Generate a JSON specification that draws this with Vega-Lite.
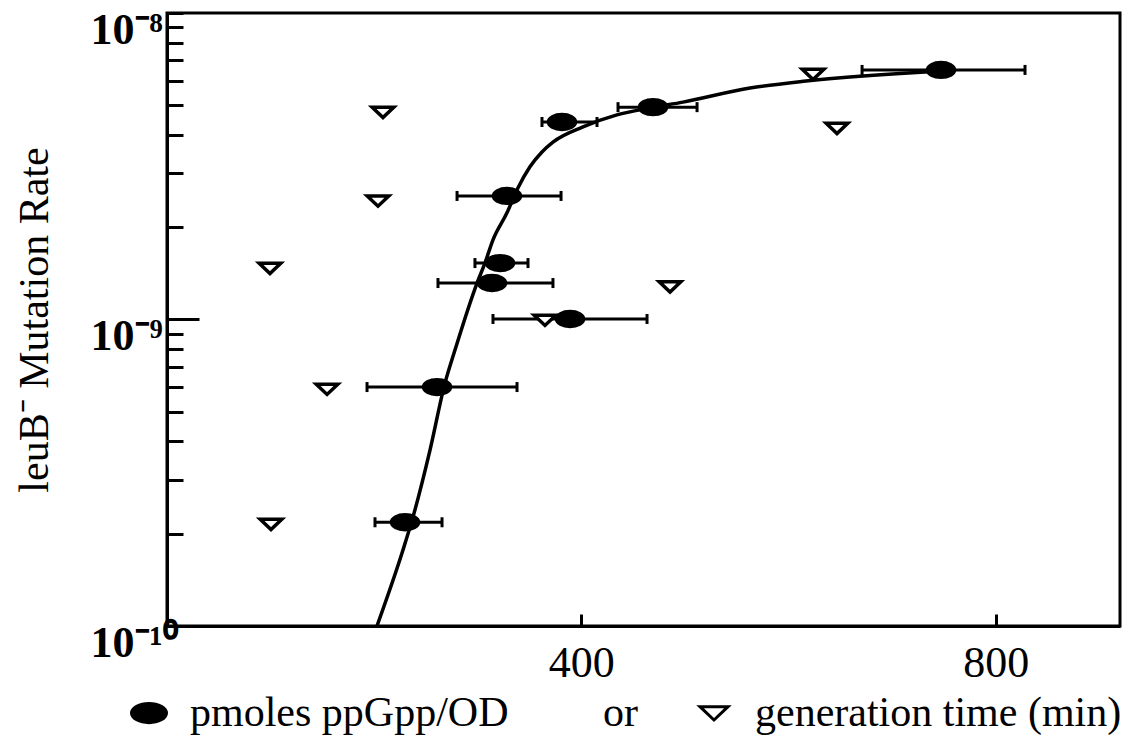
{
  "$schema": "https://vega.github.io/schema/vega-lite/v6.json",
  "width": 953,
  "height": 613,
  "autosize": {"type": "none"},
  "padding": {"left": 167, "top": 13, "right": 18, "bottom": 121},
  "config": {
    "font": "Liberation Serif",
    "view": {"stroke": "black", "strokeWidth": 3},
    "axis": {"domainColor": "black", "domainWidth": 3, "tickColor": "black", "tickWidth": 3, "grid": false, "labelColor": "black", "titleColor": "black"}
  },
  "datasets": {
    "points": [
      {"series": "gen", "x": 100.4, "rate": 2.15e-10},
      {"series": "gen", "x": 154.5, "rate": 5.93e-10},
      {"series": "gen", "x": 99.4, "rate": 1.47e-9},
      {"series": "gen", "x": 203.7, "rate": 2.44e-9},
      {"series": "gen", "x": 208.5, "rate": 4.75e-9},
      {"series": "gen", "x": 364.9, "rate": 9.96e-10},
      {"series": "gen", "x": 485.6, "rate": 1.28e-9},
      {"series": "gen", "x": 623.7, "rate": 6.32e-9},
      {"series": "gen", "x": 646.8, "rate": 4.21e-9},
      {"series": "ppGpp", "x": 229.8, "lo": 200.8, "hi": 265.5, "rate": 2.18e-10},
      {"series": "ppGpp", "x": 260.7, "lo": 193.1, "hi": 337.9, "rate": 6.02e-10},
      {"series": "ppGpp", "x": 313.8, "lo": 261.6, "hi": 372.6, "rate": 1.315e-9},
      {"series": "ppGpp", "x": 321.5, "lo": 297.3, "hi": 348.5, "rate": 1.528e-9},
      {"series": "ppGpp", "x": 389.1, "lo": 314.7, "hi": 463.4, "rate": 1.004e-9},
      {"series": "ppGpp", "x": 328.2, "lo": 280.0, "hi": 380.4, "rate": 2.53e-9},
      {"series": "ppGpp", "x": 381.3, "lo": 362.0, "hi": 415.1, "rate": 4.41e-9},
      {"series": "ppGpp", "x": 469.2, "lo": 435.4, "hi": 511.7, "rate": 4.93e-9},
      {"series": "ppGpp", "x": 747.2, "lo": 671.0, "hi": 828.3, "rate": 6.52e-9}
    ],
    "curve": [
      {"x": 202.7, "rate": 1.0e-10},
      {"x": 227.8, "rate": 1.77e-10},
      {"x": 237.5, "rate": 2.27e-10},
      {"x": 253.9, "rate": 3.75e-10},
      {"x": 268.4, "rate": 6.21e-10},
      {"x": 278.0, "rate": 7.95e-10},
      {"x": 299.3, "rate": 1.315e-9},
      {"x": 307.0, "rate": 1.53e-9},
      {"x": 314.7, "rate": 1.82e-9},
      {"x": 328.2, "rate": 2.23e-9},
      {"x": 337.9, "rate": 2.65e-9},
      {"x": 350.4, "rate": 3.15e-9},
      {"x": 362.0, "rate": 3.52e-9},
      {"x": 372.6, "rate": 3.79e-9},
      {"x": 401.6, "rate": 4.25e-9},
      {"x": 434.4, "rate": 4.65e-9},
      {"x": 466.3, "rate": 4.9e-9},
      {"x": 498.1, "rate": 5.12e-9},
      {"x": 562.8, "rate": 5.69e-9},
      {"x": 616.9, "rate": 6.0e-9},
      {"x": 749.1, "rate": 6.47e-9}
    ]
  },
  "layer": [
    {
      "data": {"name": "points"},
      "transform": [{"filter": "isValid(datum.lo)"}],
      "mark": {"type": "rule", "strokeWidth": 3, "color": "black"},
      "encoding": {
        "x": {
          "field": "lo", "type": "quantitative",
          "scale": {"domain": [0, 920], "nice": false, "zero": false},
          "axis": {
            "values": [400, 800], "title": null, "tickSize": -12, "labelPadding": 27,
            "labelFontSize": 44, "labelFlush": false, "labelFont": "Liberation Serif"
          }
        },
        "x2": {"field": "hi"},
        "y": {
          "field": "rate", "type": "quantitative",
          "scale": {"type": "log", "domain": [1e-10, 1e-8], "nice": false},
          "axis": {
            "values": [1e-10, 2e-10, 3e-10, 4e-10, 5e-10, 6e-10, 7e-10, 8e-10, 9e-10, 1e-9, 2e-9, 3e-9, 4e-9, 5e-9, 6e-9, 7e-9, 8e-9, 9e-9, 1e-8],
            "labelExpr": "abs(log(datum.value)/LN10+8)<0.001 ? '10⁻⁸' : abs(log(datum.value)/LN10+9)<0.001 ? '10⁻⁹' : abs(log(datum.value)/LN10+10)<0.001 ? '10⁻¹⁰' : ''",
            "labelAlign": "left", "labelBaseline": "alphabetic", "labelOffset": 30,
            "labelFontSize": 44, "labelFontWeight": "bold", "labelFont": "Liberation Serif",
            "labelOverlap": false, "labelFlush": false, "labelBound": false,
            "tickSize": {"condition": {"test": "abs(log(datum.value)/LN10+9)<0.001", "value": -32}, "value": -16},
            "labelPadding": {"condition": {"test": "abs(log(datum.value)/LN10+9)<0.001", "value": 109}, "value": 93},
            "title": "leuB⁻ Mutation Rate", "titleFontSize": 42, "titleFontWeight": "normal",
            "titleFont": "Liberation Serif", "titlePadding": 34
          }
        }
      }
    },
    {
      "data": {"name": "points"},
      "transform": [{"filter": "isValid(datum.lo)"}],
      "mark": {"type": "tick", "orient": "vertical", "size": 10, "thickness": 3, "color": "black", "opacity": 1},
      "encoding": {
        "x": {"field": "lo", "type": "quantitative"},
        "y": {"field": "rate", "type": "quantitative"}
      }
    },
    {
      "data": {"name": "points"},
      "transform": [{"filter": "isValid(datum.hi)"}],
      "mark": {"type": "tick", "orient": "vertical", "size": 10, "thickness": 3, "color": "black", "opacity": 1},
      "encoding": {
        "x": {"field": "hi", "type": "quantitative"},
        "y": {"field": "rate", "type": "quantitative"}
      }
    },
    {
      "data": {"name": "curve"},
      "mark": {"type": "line", "strokeWidth": 3.5, "color": "black", "interpolate": "monotone", "clip": true},
      "encoding": {
        "x": {"field": "x", "type": "quantitative"},
        "y": {"field": "rate", "type": "quantitative"}
      }
    },
    {
      "data": {"name": "points"},
      "mark": {"type": "point", "filled": true, "stroke": "black", "strokeWidth": 3.5, "size": 729, "opacity": 1},
      "encoding": {
        "x": {"field": "x", "type": "quantitative"},
        "y": {"field": "rate", "type": "quantitative"},
        "shape": {
          "field": "series", "type": "nominal",
          "scale": {"domain": ["ppGpp", "gen"], "range": ["M-1,0A1,0.55 0 1,0 1,0A1,0.55 0 1,0 -1,0Z", "M-0.8,-0.36L0.8,-0.36L0,0.4Z"]},
          "legend": {
            "title": null, "orient": "none", "legendX": -39, "legendY": 679, "direction": "horizontal",
            "labelFontSize": 42, "labelLimit": 1000, "symbolSize": 1225,
            "labelOffset": 20, "columnPadding": 55, "symbolStrokeWidth": 3,
            "labelExpr": "datum.value == 'ppGpp' ? 'pmoles ppGpp/OD\u00a0\u00a0\u00a0\u00a0\u00a0\u00a0\u00a0\u00a0\u00a0or' : 'generation time (min)'"
          }
        },
        "fill": {
          "field": "series", "type": "nominal",
          "scale": {"domain": ["ppGpp", "gen"], "range": ["black", "white"]},
          "legend": {
            "title": null, "orient": "none", "legendX": -39, "legendY": 679, "direction": "horizontal",
            "labelFontSize": 42, "labelLimit": 1000, "symbolSize": 1225,
            "labelOffset": 20, "columnPadding": 55, "symbolStrokeWidth": 3,
            "labelExpr": "datum.value == 'ppGpp' ? 'pmoles ppGpp/OD\u00a0\u00a0\u00a0\u00a0\u00a0\u00a0\u00a0\u00a0\u00a0or' : 'generation time (min)'"
          }
        }
      }
    }
  ]
}
